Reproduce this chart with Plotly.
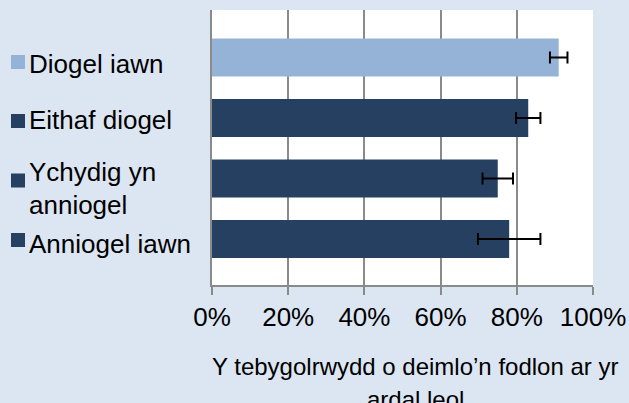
import plotly.graph_objects as go

# ---- data ----
categories = ["Diogel iawn", "Eithaf diogel", "Ychydig yn anniogel", "Anniogel iawn"]
values = [91, 83, 75, 78]
err_plus = [2.3, 3.2, 4.0, 8.2]
err_minus = [2.3, 3.2, 4.0, 8.2]
label_lines = [["Diogel iawn"], ["Eithaf diogel"], ["Ychydig yn", "anniogel"], ["Anniogel iawn"]]
x_ticks = [0, 20, 40, 60, 80, 100]
x_title_lines = ["Y tebygolrwydd o deimlo\u2019n fodlon ar yr", "ardal leol"]

# ---- style ----
W, H = 629, 403
ML, MR, MT, MB = 212, 36, 10, 118
PW, PH = W - ML - MR, H - MT - MB
BG = "#dce6f2"
LIGHT = "#95b3d7"
DARK = "#264061"
GRID = "#8a8a8a"
FONT = "Liberation Sans, Arial, sans-serif"
colors = [LIGHT, DARK, DARK, DARK]


def px(xp):
    return (xp - ML) / PW


def py(yp):
    return (H - MB - yp) / PH


fig = go.Figure()
fig.add_trace(go.Bar(
    y=categories, x=values, orientation="h",
    marker=dict(color=colors, line=dict(width=0)),
    width=0.63,
    error_x=dict(type="data", array=err_plus, arrayminus=err_minus,
                 color="#000000", thickness=2, width=6),
    showlegend=False, hoverinfo="x+y",
))

# legend-like labels on the left
square_centers = [62, 121, 180.5, 240]
text_centers = [[63.5], [119.5], [172, 204.5], [244]]
shapes = []
annotations = []
for i, cat in enumerate(categories):
    c = square_centers[i]
    shapes.append(dict(type="rect", xref="paper", yref="paper",
                       x0=px(11), x1=px(25), y0=py(c + 7), y1=py(c - 7),
                       fillcolor=colors[i], line=dict(width=0)))
    for line, tc in zip(label_lines[i], text_centers[i]):
        annotations.append(dict(text=line, xref="paper", yref="paper",
                                x=px(27), y=py(tc), xanchor="left", yanchor="middle",
                                showarrow=False,
                                font=dict(family=FONT, size=26, color="#000000")))

# axis title
for line, yc in zip(x_title_lines, [366, 399]):
    annotations.append(dict(text=line, xref="paper", yref="paper",
                            x=px(415), y=py(yc), xanchor="center", yanchor="middle",
                            showarrow=False,
                            font=dict(family=FONT, size=24, color="#000000")))

fig.update_layout(
    width=W, height=H,
    margin=dict(l=ML, r=MR, t=MT, b=MB, pad=0, autoexpand=False),
    paper_bgcolor=BG, plot_bgcolor="#ffffff",
    font=dict(family=FONT, color="#000000"),
    shapes=shapes, annotations=annotations,
    bargap=0.37,
)
fig.update_xaxes(
    range=[0, 100], tickvals=x_ticks, ticktext=[f"{t}%" for t in x_ticks],
    showgrid=True, gridcolor=GRID, gridwidth=1.8,
    zeroline=False, showline=True, linecolor=GRID, linewidth=1.8,
    ticks="outside", ticklen=8, tickcolor=GRID, tickwidth=1.8,
    tickfont=dict(family=FONT, size=26, color="#000000"),
    fixedrange=True, automargin=False,
)
fig.update_yaxes(
    type="category", categoryorder="array", categoryarray=categories,
    range=[3.76, -0.785],
    showticklabels=False, showgrid=False, zeroline=False,
    showline=True, linecolor=GRID, linewidth=1.8, ticks="",
    fixedrange=True, automargin=False,
)

fig.write_html("out.html", config={"displayModeBar": False},
               post_script="document.body.style.margin='0';document.body.style.background='" + BG + "';")
